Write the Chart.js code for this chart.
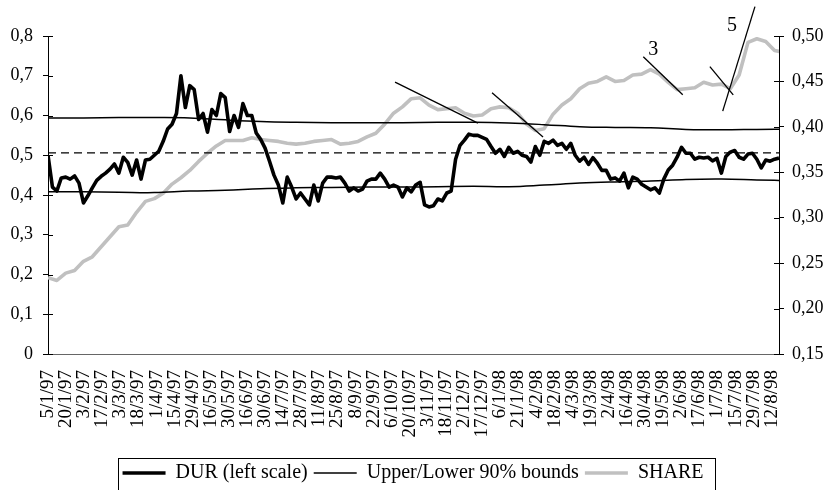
<!DOCTYPE html>
<html>
<head>
<meta charset="utf-8">
<script src="https://cdn.jsdelivr.net/npm/chart.js@4.4.1/dist/chart.umd.min.js"></script>
<style>
  html, body { margin: 0; padding: 0; background: #fff; }
  #wrap { width: 826px; height: 490px; }
</style>
</head>
<body>
<div id="wrap"><canvas id="durChart" width="826" height="490"></canvas></div>
<script>
// Tick labels on the date axis (one every two weeks)
const tickLabels = [
  "5/1/97", "20/1/97", "3/2/97", "17/2/97", "3/3/97", "18/3/97", "1/4/97",
  "15/4/97", "29/4/97", "16/5/97", "30/5/97", "16/6/97", "30/6/97", "14/7/97",
  "28/7/97", "11/8/97", "25/8/97", "8/9/97", "22/9/97", "6/10/97", "20/10/97",
  "3/11/97", "18/11/97", "2/12/97", "17/12/97", "6/1/98", "21/1/98", "4/2/98",
  "18/2/98", "4/3/98", "19/3/98", "2/4/98", "16/4/98", "30/4/98", "19/5/98",
  "2/6/98", "17/6/98", "1/7/98", "15/7/98", "29/7/98", "12/8/98",
];

// DUR (left scale) at an even step
const durValues = [
  0.50, 0.42, 0.41, 0.443, 0.445, 0.44, 0.448, 0.43, 0.38, 0.398,
  0.418, 0.437, 0.447, 0.455, 0.465, 0.478, 0.455, 0.495, 0.482, 0.45,
  0.488, 0.44, 0.488, 0.49, 0.50, 0.51, 0.535, 0.566, 0.578, 0.605,
  0.70, 0.62, 0.675, 0.665, 0.59, 0.605, 0.558, 0.615, 0.60, 0.655,
  0.645, 0.56, 0.60, 0.57, 0.63, 0.60, 0.60, 0.556, 0.54, 0.518,
  0.485, 0.45, 0.425, 0.38, 0.445, 0.42, 0.39, 0.405, 0.39, 0.375,
  0.425, 0.385, 0.43, 0.445, 0.445, 0.443, 0.445, 0.43, 0.41, 0.418,
  0.41, 0.415, 0.435, 0.44, 0.44, 0.455, 0.44, 0.42, 0.425, 0.42,
  0.395, 0.418, 0.408, 0.425, 0.432, 0.375, 0.37, 0.373, 0.39, 0.385,
  0.405, 0.41, 0.49, 0.525, 0.538, 0.553, 0.55, 0.55, 0.545, 0.54,
  0.522, 0.505, 0.515, 0.497, 0.52, 0.505, 0.51, 0.50, 0.497, 0.483,
  0.522, 0.50, 0.535, 0.53, 0.538, 0.525, 0.53, 0.515, 0.53, 0.50,
  0.485, 0.495, 0.477, 0.494, 0.48, 0.462, 0.462, 0.44, 0.443, 0.435,
  0.455, 0.418, 0.445, 0.44, 0.427, 0.42, 0.413, 0.418, 0.405, 0.44,
  0.463, 0.475, 0.495, 0.52, 0.505, 0.505, 0.49, 0.495, 0.493, 0.495,
  0.486, 0.492, 0.455, 0.497, 0.508, 0.512, 0.495, 0.49, 0.503, 0.505,
  0.49, 0.468, 0.488, 0.485, 0.49, 0.493,
];

// SHARE (right scale), half the resolution of DUR
const shareValues = [
  0.234, 0.231, 0.239, 0.242, 0.252, 0.257, 0.268, 0.279, 0.29, 0.292,
  0.306, 0.318, 0.321, 0.327, 0.337, 0.344, 0.352, 0.362, 0.371, 0.379,
  0.385, 0.385, 0.385, 0.388, 0.386, 0.385, 0.384, 0.382, 0.381, 0.382,
  0.384, 0.385, 0.386, 0.381, 0.382, 0.384, 0.389, 0.393, 0.403, 0.415,
  0.422, 0.431, 0.432, 0.424, 0.419, 0.42, 0.421, 0.415, 0.412, 0.413,
  0.42, 0.422, 0.421, 0.415, 0.403, 0.396, 0.398, 0.414, 0.424, 0.431,
  0.442, 0.448, 0.45, 0.455, 0.45, 0.451, 0.457, 0.458, 0.463, 0.458,
  0.449, 0.441, 0.442, 0.443, 0.449, 0.446, 0.447, 0.442, 0.457, 0.493,
  0.497, 0.494, 0.484, 0.482,
];

// 90% bounds (left scale), coarse samples
const upperBound = [
  0.594, 0.594, 0.595, 0.595, 0.594, 0.589, 0.585, 0.583, 0.582, 0.582, 0.582,
  0.583, 0.583, 0.581, 0.577, 0.572, 0.570, 0.569, 0.565, 0.564, 0.565, 0.566,
];
const lowerBound = [
  0.408, 0.408, 0.407, 0.406, 0.41, 0.412, 0.416, 0.418, 0.419, 0.42, 0.42,
  0.421, 0.422, 0.421, 0.425, 0.43, 0.433, 0.435, 0.439, 0.44, 0.438, 0.436,
];

// mean level drawn dashed
const meanLevel = 0.506;

// callout lines [x1, y1, x2, y2] in (label index, left scale) units, and their numbers
const calloutLines = [
  [19.18, 0.684, 23.76, 0.581],
  [24.54, 0.657, 27.36, 0.546],
  [32.9, 0.748, 35.08, 0.652],
  [36.58, 0.723, 37.87, 0.652],
  [39.07, 0.874, 37.29, 0.611],
];
const calloutLabels = [
  ["3", 33.45, 0.765],
  ["5", 37.8, 0.825],
];

const xMax = 40.4;
const durStep = xMax / (durValues.length - 1);
const toPoints = (values, step) => values.map((v, i) => ({ x: i * step, y: v }));

const serif = "'Liberation Serif', 'Times New Roman', serif";

// extra drawing: inner half of tick marks, callouts, legend frame
const chartExtras = {
  id: "chartExtras",
  afterDraw(chart) {
    const ctx = chart.ctx;
    const area = chart.chartArea;
    const xs = chart.scales.x;
    const yL = chart.scales.y;
    const yR = chart.scales.y1;
    ctx.save();
    ctx.strokeStyle = "#000";
    ctx.lineWidth = 1;

    yL.ticks.forEach((t) => {
      const py = Math.round(yL.getPixelForValue(t.value)) + 0.5;
      ctx.beginPath();
      ctx.moveTo(area.left, py);
      ctx.lineTo(area.left + 5, py);
      ctx.stroke();
    });
    yR.ticks.forEach((t) => {
      const py = Math.round(yR.getPixelForValue(t.value)) + 0.5;
      ctx.beginPath();
      ctx.moveTo(area.right - 5, py);
      ctx.lineTo(area.right, py);
      ctx.stroke();
    });

    // callouts
    ctx.lineWidth = 1.3;
    calloutLines.forEach(([x1, y1, x2, y2]) => {
      ctx.beginPath();
      ctx.moveTo(xs.getPixelForValue(x1), yL.getPixelForValue(y1));
      ctx.lineTo(xs.getPixelForValue(x2), yL.getPixelForValue(y2));
      ctx.stroke();
    });
    ctx.fillStyle = "#000";
    ctx.font = "20px " + serif;
    ctx.textAlign = "center";
    ctx.textBaseline = "middle";
    calloutLabels.forEach(([txt, x, y]) => {
      ctx.fillText(txt, xs.getPixelForValue(x), yL.getPixelForValue(y));
    });

    // frame round the legend
    const boxes = chart.legend.legendHitBoxes;
    if (boxes && boxes.length) {
      const left = Math.min(...boxes.map((b) => b.left)) - 5;
      const right = Math.max(...boxes.map((b) => b.left + b.width)) + 11;
      const mid = boxes[0].top + boxes[0].height / 2;
      ctx.lineWidth = 1;
      ctx.strokeRect(Math.round(left) + 0.5, Math.round(mid - 15) + 0.5, Math.round(right - left), 60);
    }
    ctx.restore();
  },
};

console.log("Rendering DUR / SHARE chart...");

new Chart(document.getElementById("durChart"), {
  type: "line",
  data: {
    datasets: [
      {
        label: "DUR (left scale)",
        data: toPoints(durValues, durStep),
        borderColor: "#000",
        borderWidth: 3.6,
        borderJoinStyle: "round",
        yAxisID: "y",
        order: 0,
      },
      {
        label: "Upper/Lower 90% bounds",
        data: toPoints(upperBound, durStep * 8),
        borderColor: "#000",
        borderWidth: 1.5,
        tension: 0.4,
        yAxisID: "y",
        order: 1,
      },
      {
        label: "SHARE",
        data: toPoints(shareValues, durStep * 2),
        borderColor: "#c0c0c0",
        borderWidth: 3.6,
        borderJoinStyle: "round",
        yAxisID: "y1",
        order: 2,
      },
      {
        label: "",
        data: toPoints(lowerBound, durStep * 8),
        borderColor: "#000",
        borderWidth: 1.5,
        tension: 0.4,
        yAxisID: "y",
        order: 1,
      },
      {
        label: "",
        data: [{ x: 0, y: meanLevel }, { x: xMax, y: meanLevel }],
        borderColor: "#000",
        borderWidth: 1.2,
        borderDash: [8, 5],
        yAxisID: "y",
        order: 1,
      },
    ],
  },
  options: {
    responsive: false,
    animation: false,
    devicePixelRatio: 1,
    elements: { point: { radius: 0 } },
    layout: { padding: { top: 36, left: 0, right: 0, bottom: -3 } },
    scales: {
      x: {
        type: "linear",
        min: 0,
        max: xMax,
        afterBuildTicks: (scale) => {
          scale.ticks = tickLabels.map((_, i) => ({ value: i }));
        },
        afterFit: (scale) => {
          scale.height = 103;
        },
        grid: { display: false, drawTicks: false },
        border: { display: true, color: "#666", width: 1 },
        ticks: {
          autoSkip: false,
          maxRotation: 90,
          minRotation: 90,
          padding: 16,
          color: "#000",
          font: { family: serif, size: 19 },
          callback: (v) => tickLabels[v] || "",
        },
      },
      y: {
        position: "left",
        min: 0,
        max: 0.8,
        afterFit: (scale) => {
          scale.width = 48;
        },
        grid: { drawOnChartArea: false, drawTicks: true, tickLength: 5, color: "#000" },
        border: { display: true, color: "#000", width: 1 },
        ticks: {
          stepSize: 0.1,
          padding: 10,
          color: "#000",
          font: { family: serif, size: 18 },
          callback: (v) => (v === 0 ? "0" : v.toFixed(1).replace(".", ",")),
        },
      },
      y1: {
        position: "right",
        min: 0.15,
        max: 0.5,
        afterFit: (scale) => {
          scale.width = 47;
        },
        grid: { drawOnChartArea: false, drawTicks: true, tickLength: 5, color: "#000" },
        border: { display: true, color: "#000", width: 1 },
        ticks: {
          stepSize: 0.05,
          padding: 8,
          color: "#000",
          font: { family: serif, size: 18 },
          callback: (v) => v.toFixed(2).replace(".", ","),
        },
      },
    },
    plugins: {
      title: { display: false },
      tooltip: { enabled: false },
      legend: {
        position: "bottom",
        labels: {
          usePointStyle: true,
          pointStyle: "line",
          pointStyleWidth: 43,
          padding: 6,
          color: "#000",
          font: { family: serif, size: 20 },
          filter: (item) => item.text !== "",
        },
      },
    },
  },
  plugins: [chartExtras],
});
</script>
</body>
</html>
